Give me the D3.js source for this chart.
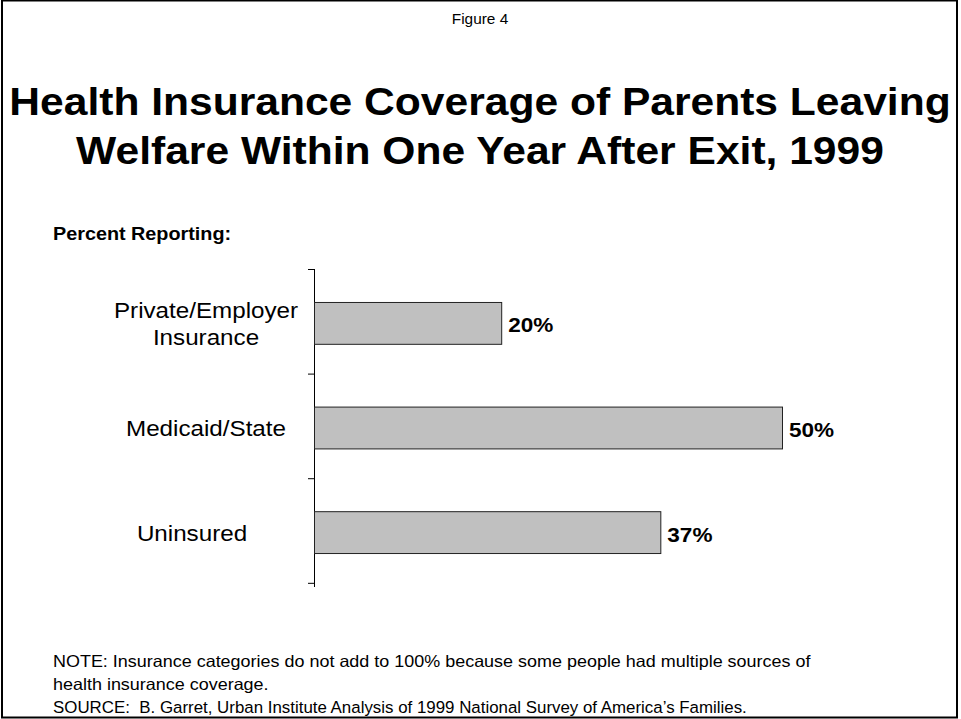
<!DOCTYPE html>
<html>
<head>
<meta charset="utf-8">
<script src="https://cdn.jsdelivr.net/npm/d3@7"></script>
<style>
  body { margin: 0; background: #fff; }
  text { font-family: Arial, "Liberation Sans", sans-serif; fill: #000; white-space: pre; }
</style>
</head>
<body>
<figure style="margin:0"></figure>
<script>
const width = 961
const height = 719
const sx = 1.1 // the slide text is stretched a little horizontally

// data
const categories = [['Private/Employer', 'Insurance'], ['Medicaid/State'], ['Uninsured']]
const values = [20, 50, 37]
const titleLines = ['Health Insurance Coverage of Parents Leaving', 'Welfare Within One Year After Exit, 1999']
const notes = [
  'NOTE: Insurance categories do not add to 100% because some people had multiple sources of',
  'health insurance coverage.',
  'SOURCE:  B. Garret, Urban Institute Analysis of 1999 National Survey of America\u2019s Families.'
]

const svg = d3.select('figure').append('svg')
  .attr('width', width)
  .attr('height', height)

const place = (x, y, k = 1) => `translate(${x},${y}) scale(${sx * k},1)`

// page frame
svg.append('rect')
  .attr('x', 2).attr('y', 0.5)
  .attr('width', 955).attr('height', 717)
  .attr('fill', 'none')
  .attr('stroke', '#000')
  .attr('stroke-width', 2)

svg.append('text')
  .attr('transform', place(480, 24))
  .attr('text-anchor', 'middle')
  .style('font-size', '14px')
  .text('Figure 4')

svg.selectAll('.title')
  .data(titleLines)
  .join('text')
    .attr('class', 'title')
    .attr('transform', (d, i) => place(480, 115 + i * 49))
    .attr('text-anchor', 'middle')
    .style('font-size', '38.7px')
    .style('font-weight', 'bold')
    .text(d => d)

svg.append('text')
  .attr('transform', place(53, 240))
  .style('font-size', '18px')
  .style('font-weight', 'bold')
  .text('Percent Reporting:')

// scales
const x = d3.scaleLinear().domain([0, 50]).range([314, 782])
const y = d3.scaleBand().domain(d3.range(categories.length)).range([269, 587])
  .paddingInner(0.6).paddingOuter(0.32)

// axis with ticks at band boundaries
const axisLine = svg.append('g').attr('stroke', '#000').attr('stroke-width', 1)
axisLine.append('line')
  .attr('x1', 314.5).attr('x2', 314.5)
  .attr('y1', 269).attr('y2', 587)
const step = y.step()
axisLine.selectAll('.tick')
  .data(d3.range(categories.length + 1))
  .join('line')
    .attr('class', 'tick')
    .attr('x1', 308).attr('x2', 314.5)
    .attr('y1', d => 269.5 + d * step)
    .attr('y2', d => 269.5 + d * step)

// bars
svg.selectAll('.bar')
  .data(values)
  .join('rect')
    .attr('class', 'bar')
    .attr('x', x(0) + 0.5)
    .attr('y', (d, i) => y(i))
    .attr('width', d => x(d) - x(0))
    .attr('height', y.bandwidth())
    .attr('fill', '#c0c0c0')
    .attr('stroke', '#222')
    .attr('stroke-width', 1)

// value labels
svg.selectAll('.val')
  .data(values)
  .join('text')
    .attr('class', 'val')
    .attr('transform', (d, i) => place(x(d) + 7, y(i) + y.bandwidth() / 2 + 9))
    .style('font-size', '20.5px')
    .style('font-weight', 'bold')
    .text(d => d + '%')

// category labels, one text per line
const catLines = categories.flatMap((lines, i) => lines.map((t, k) => ({ t, i, k, n: lines.length })))
svg.selectAll('.cat')
  .data(catLines)
  .join('text')
    .attr('class', 'cat')
    .attr('transform', d => place(d.i === 2 ? 192 : 206, y(d.i) + y.bandwidth() / 2 + 8 + (d.k - (d.n - 1) / 2) * 27))
    .attr('text-anchor', 'middle')
    .style('font-size', '22px')
    .text(d => d.t)

// notes (the source line is set a bit tighter)
svg.selectAll('.note')
  .data(notes)
  .join('text')
    .attr('class', 'note')
    .attr('transform', (d, i) => place(53, 667 + i * 23, i === 2 ? 0.93 : 0.99))
    .style('font-size', '16.5px')
    .text(d => d)
</script>
</body>
</html>
